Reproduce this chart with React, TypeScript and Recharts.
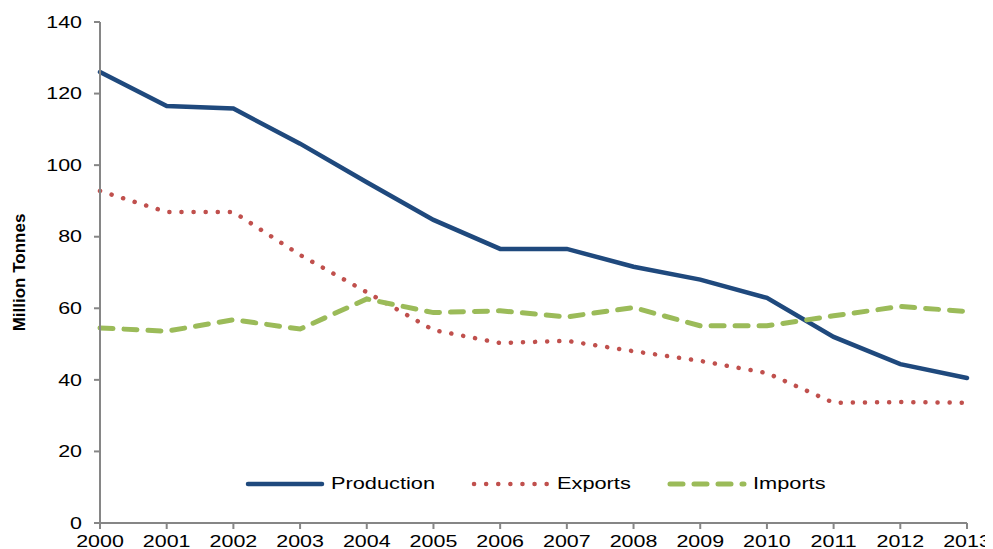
import { LineChart, Line, XAxis, YAxis } from 'recharts'

const years = ['2000', '2001', '2002', '2003', '2004', '2005', '2006', '2007', '2008', '2009', '2010', '2011', '2012', '2013']
const production = [126, 116.5, 115.8, 106, 95.2, 84.7, 76.6, 76.6, 71.6, 68, 62.9, 52, 44.4, 40.5]
const exports = [92.8, 86.9, 86.9, 74.9, 64.5, 53.9, 50.3, 50.9, 48, 45.3, 41.9, 33.6, 33.8, 33.6]
const imports = [54.5, 53.6, 56.8, 54.2, 62.6, 58.8, 59.3, 57.6, 60.2, 55.1, 55.1, 57.9, 60.5, 59.1]
const yTicks = [0, 20, 40, 60, 80, 100, 120, 140]

const data = years.map((y, i) => ({
  year: y,
  Production: production[i],
  Exports: exports[i],
  Imports: imports[i],
}))

const FONT = '"Liberation Sans", Arial, sans-serif'
const AXIS = '#868686'
// the original image is stretched sideways, so the text is too
const STRETCH = 1.28
const TICK_STRETCH = 1.34

const SERIES = [
  { key: 'Production', color: '#1F497D', dash: undefined as string | undefined, width: 4.5, legendX: 237 },
  { key: 'Exports', color: '#C0504D', dash: '0.1 12', width: 4.5, legendX: 463 },
  { key: 'Imports', color: '#9BBB59', dash: '13 11', width: 5, legendX: 659 },
]

type TickProps = { x?: number; y?: number; payload?: { value: string | number } }

function XTick({ x = 0, y = 0, payload }: TickProps) {
  return (
    <text
      transform={`translate(${x},${y}) scale(${TICK_STRETCH},1)`}
      textAnchor="middle"
      dy={12}
      fill="#000"
      fontSize={16}
      fontFamily={FONT}
    >
      {payload?.value}
    </text>
  )
}

function YTick({ x = 0, y = 0, payload }: TickProps) {
  return (
    <text
      transform={`translate(${x},${y}) scale(${TICK_STRETCH},1)`}
      textAnchor="end"
      dy="0.36em"
      fill="#000"
      fontSize={16}
      fontFamily={FONT}
    >
      {payload?.value}
    </text>
  )
}

function LegendOverlay() {
  return (
    <>
      {SERIES.map((s) => (
        <div
          key={s.key}
          style={{
            position: 'absolute',
            left: s.legendX,
            top: 466,
            display: 'flex',
            alignItems: 'center',
            fontFamily: FONT,
            fontSize: 17,
            color: '#000',
            whiteSpace: 'nowrap',
          }}
        >
          <svg width={80} height={12} style={{ marginRight: 6 }}>
            <line
              x1={3}
              y1={6}
              x2={77}
              y2={6}
              stroke={s.color}
              strokeWidth={s.width}
              strokeDasharray={s.dash}
              strokeLinecap="round"
            />
          </svg>
          <span style={{ display: 'inline-block', transform: `scaleX(${STRETCH})`, transformOrigin: 'left center' }}>
            {s.key}
          </span>
        </div>
      ))}
    </>
  )
}

export default function App() {
  return (
    <div style={{ position: 'relative', width: 985, height: 549 }}>
      <LineChart width={985} height={549} data={data} margin={{ top: 14, right: 26, bottom: 0, left: 0 }}>
        <XAxis
          dataKey="year"
          height={34}
          stroke={AXIS}
          strokeWidth={2}
          tickLine={{ stroke: AXIS, strokeWidth: 2 }}
          tickSize={6}
          tickMargin={6}
          interval={0}
          tick={<XTick />}
        />
        <YAxis
          domain={[0, 140]}
          ticks={yTicks}
          width={92}
          stroke={AXIS}
          strokeWidth={2}
          tickLine={{ stroke: AXIS, strokeWidth: 2 }}
          tickSize={6}
          tickMargin={12}
          tick={<YTick />}
          label={{
            value: 'Million Tonnes',
            angle: -90,
            position: 'insideLeft',
            offset: 11,
            style: {
              fontFamily: '"Liberation Sans Narrow", "Liberation Sans", Arial',
              fontWeight: 'bold',
              fontSize: 17,
              fill: '#000',
              textAnchor: 'middle',
            },
          }}
        />
        {SERIES.map((s) => (
          <Line
            key={s.key}
            type="linear"
            dataKey={s.key}
            stroke={s.color}
            strokeWidth={s.width}
            strokeDasharray={s.dash}
            strokeLinecap="round"
            dot={false}
            activeDot={false}
            isAnimationActive={false}
          />
        ))}
      </LineChart>
      <LegendOverlay />
    </div>
  )
}
